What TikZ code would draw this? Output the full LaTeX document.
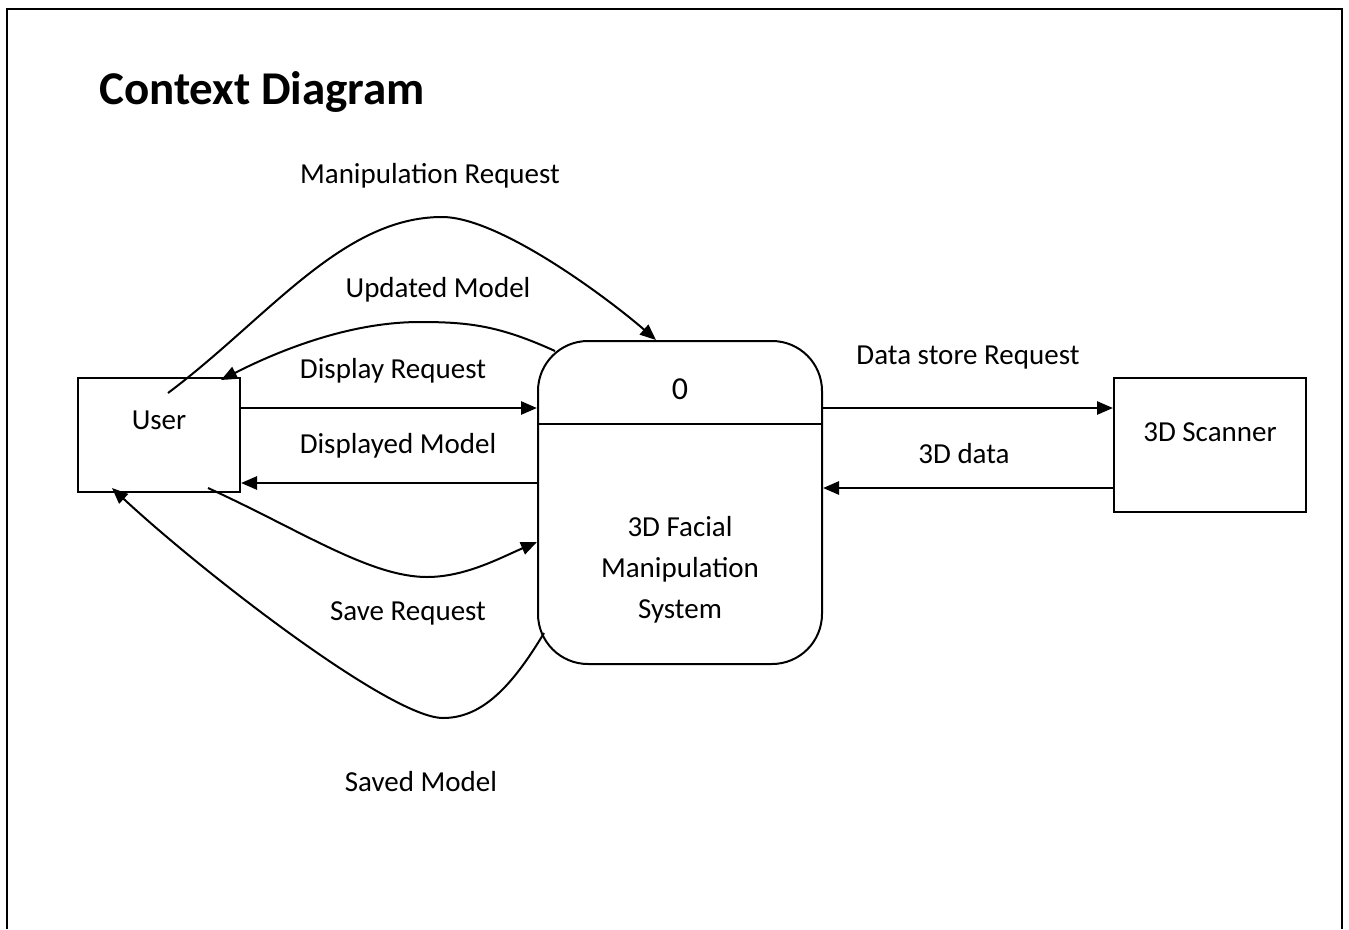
\documentclass[tikz,border=0pt]{standalone}
\usepackage{fontspec}
\setmainfont{Carlito}
\usetikzlibrary{arrows.meta}

\tikzset{
  entity/.style={draw, rectangle, line width=2pt, inner sep=0pt},
  process/.style={draw, rectangle, rounded corners=50pt, line width=2pt,
    minimum width=284pt, minimum height=323pt, inner sep=0pt},
  flow/.style={line width=2.6pt, -{Triangle[length=16pt,width=13pt]}},
  curvy/.style={line width=2pt, -{Triangle[length=16pt,width=13pt]}},
  flowlabel/.style={inner sep=0pt}
}

\begin{document}
\begin{tikzpicture}[x=1pt,y=-1pt,font=\fontsize{29}{35}\selectfont]
\useasboundingbox (0,0) rectangle (1349,929);
% page frame
\draw[line width=2.5pt] (7,929) -- (7,9) -- (1342,9) -- (1342,929);
\node[anchor=base west,inner sep=0pt,font=\fontsize{47}{56}\selectfont\bfseries] (title) at (99,104) {Context Diagram};

% entities and process
\node[entity, minimum width=162pt, minimum height=114pt] (user) at (159,435) {};
\node (usertxt) at ([yshift=15pt]user.center) {User};
\node[entity, minimum width=192pt, minimum height=134pt] (scan) at (1210,445) {};
\node (scantxt) at ([yshift=13pt]scan.center) {3D Scanner};
\node[process] (proc) at (680,502.5) {};
\draw[line width=2pt] ([yshift=78.5pt]proc.west) -- ([yshift=78.5pt]proc.east);
\node[font=\fontsize{32}{38}\selectfont] (procid) at (680,389) {0};
\node[align=center,font=\fontsize{29}{41}\selectfont] (proctxt) at (680,570) {3D Facial\\Manipulation\\System};

% straight flows
\draw[flow] ([yshift=27pt]user.east) -- ([yshift=94.5pt]proc.west);
\draw[flow] ([yshift=19.5pt]proc.west) -- ([yshift=-48pt]user.east);
\draw[flow] ([yshift=94.5pt]proc.east) -- ([yshift=37pt]scan.west);
\draw[flow] ([yshift=-43pt]scan.west) -- ([yshift=14.5pt]proc.east);

% curved flows
\draw[curvy] ([xshift=9pt,yshift=42pt]user.center)
  .. controls (268,318) and (342,217) .. (442,217)
  .. controls (500,217) and (610,300) .. ([xshift=-24pt]proc.north);
\draw[curvy] ([xshift=18pt,yshift=-11pt]proc.north west)
  .. controls (500,326) and (470,322) .. (420,322)
  .. controls (350,322) and (280,350) .. ([xshift=-20pt,yshift=-3pt]user.north east);
\draw[curvy] ([xshift=49pt,yshift=5pt]user.south)
  .. controls (300,530) and (370,577) .. (427,577)
  .. controls (465,577) and (500,558) .. ([yshift=-39.5pt]proc.west);
\draw[curvy] ([xshift=7pt,yshift=-130.5pt]proc.west)
  .. controls (510,690) and (480,718) .. (443,718)
  .. controls (390,718) and (200,570) .. ([xshift=-47pt,yshift=5pt]user.south);

% flow labels
\node[flowlabel] (lmanip) at (430,176) {Manipulation Request};
\node[flowlabel] (lupd) at (438,290) {Updated Model};
\node[flowlabel] (ldisp) at (393,371) {Display Request};
\node[flowlabel] (ldispd) at (398,446) {Displayed Model};
\node[flowlabel] (lsave) at (408,613) {Save Request};
\node[flowlabel] (lsaved) at (421,782) {Saved Model};
\node[flowlabel] (lstore) at (968,358) {Data store Request};
\node[flowlabel] (ldata) at (964,454) {3D data};
\end{tikzpicture}
\end{document}
